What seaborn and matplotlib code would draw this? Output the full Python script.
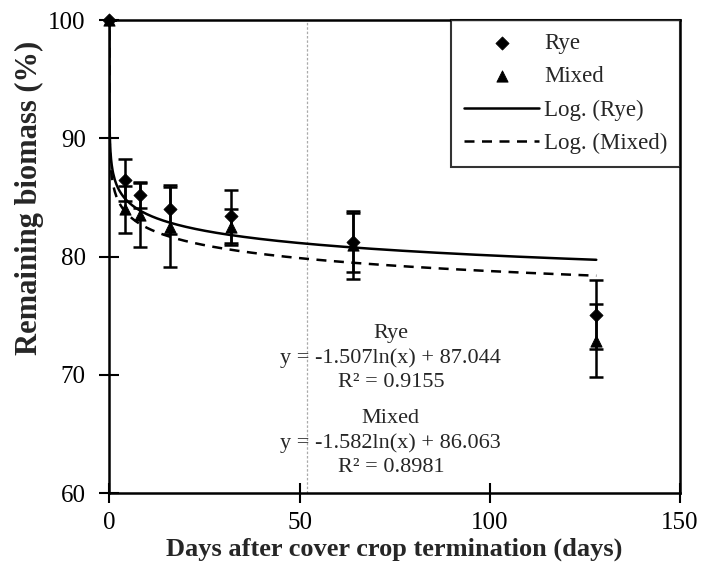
#!/usr/bin/env python3

import numpy as np
import pandas as pd
import seaborn as sns
import matplotlib
matplotlib.use("Agg")
import matplotlib.pyplot as plt

# sampling days and measured remaining biomass (%)
days = [0, 4, 8, 16, 32, 64, 128]
rye = [100.0, 86.5, 85.2, 84.0, 83.4, 81.2, 75.1]
rye_err = [0.0, 1.8, 1.1, 2.1, 2.25, 2.5, 2.9]
mixed = [100.0, 84.0, 83.5, 82.5, 82.5, 81.0, 72.9]
mixed_err = [0.0, 2.0, 2.7, 3.4, 1.5, 2.9, 3.1]

# log trendline coefficients y = a*ln(x) + b, and R²
rye_fit = (-1.507, 87.044, 0.9155)
mixed_fit = (-1.582, 86.063, 0.8981)

sns.set_style("ticks")
plt.rcParams['font.family'] = ['Liberation Serif', 'DejaVu Serif']

fig = plt.figure(figsize=(7.01, 5.78), dpi=100)
ax = fig.add_axes([0.156, 0.147, 0.814, 0.818])

df = pd.DataFrame({'Days': days, 'Rye': rye, 'Mixed': mixed})

# trend lines
xs = np.concatenate([np.logspace(-4, 0, 200), np.linspace(1, 128, 300)[1:]])
fit = pd.DataFrame({'x': xs,
                    'rye': rye_fit[0] * np.log(xs) + rye_fit[1],
                    'mixed': mixed_fit[0] * np.log(xs) + mixed_fit[1]})
sns.lineplot(data=fit, x='x', y='rye', color='black', lw=1.8, ax=ax,
             label='Log. (Rye)', sort=False)
sns.lineplot(data=fit, x='x', y='mixed', color='black', lw=1.8, ax=ax,
             label='Log. (Mixed)', sort=False, linestyle=(0, (4, 3)))

# error bars
for vals, err in [(rye, rye_err), (mixed, mixed_err)]:
    ax.errorbar(days, vals, yerr=err, fmt='none', ecolor='black',
                elinewidth=1.8, capsize=5, capthick=1.8, zorder=3)

sns.scatterplot(data=df, x='Days', y='Rye', marker='D', s=45, color='black',
                edgecolor='black', ax=ax, label='Rye', zorder=4, clip_on=False)
sns.scatterplot(data=df, x='Days', y='Mixed', marker='^', s=65, color='black',
                edgecolor='black', ax=ax, label='Mixed', zorder=4,
                clip_on=False)

ax.axvline(52, color='#aaaaaa', lw=0.9, ls=(0, (2, 1.5)), zorder=1)

ax.set_xlim(0, 150)
ax.set_ylim(60, 100)
ax.set_xticks([0, 50, 100, 150])
ax.set_yticks([60, 70, 80, 90, 100])
ax.tick_params(direction='inout', length=14, width=1.5, labelsize=18,
               colors='black')
ax.tick_params(axis='x', pad=7)
ax.tick_params(axis='y', pad=10)
for s in ax.spines.values():
    s.set_linewidth(1.8)
    s.set_color('black')

ax.set_xlabel('Days after cover crop termination (days)', fontsize=19,
              fontweight='bold')
ax.set_ylabel('Remaining biomass (%)', fontsize=22, fontweight='bold')
ax.xaxis.set_label_coords(0.50, -0.095)
ax.yaxis.set_label_coords(-0.115, 0.625)

# trendline equations
tx = 74
lines = [('Rye', 73.1),
         ('y = -%.3fln(x) + %.3f' % (-rye_fit[0], rye_fit[1]), 71.0),
         ('R² = %.4f' % rye_fit[2], 69.0),
         ('Mixed', 65.9),
         ('y = -%.3fln(x) + %.3f' % (-mixed_fit[0], mixed_fit[1]), 63.8),
         ('R² = %.4f' % mixed_fit[2], 61.8)]
for txt, yy in lines:
    ax.text(tx, yy, txt, ha='center', va='baseline', fontsize=16)

h, l = ax.get_legend_handles_labels()
order = [l.index('Rye'), l.index('Mixed'), l.index('Log. (Rye)'),
         l.index('Log. (Mixed)')]
leg = ax.legend([h[i] for i in order], [l[i] for i in order],
                loc='upper right', borderaxespad=0, fontsize=16.5,
                frameon=True, fancybox=False, edgecolor='black',
                handlelength=3.3, handletextpad=0.2, labelspacing=0.54,
                borderpad=0.55)
leg.get_frame().set_linewidth(1.5)

fig.savefig('out.png', dpi=100)
